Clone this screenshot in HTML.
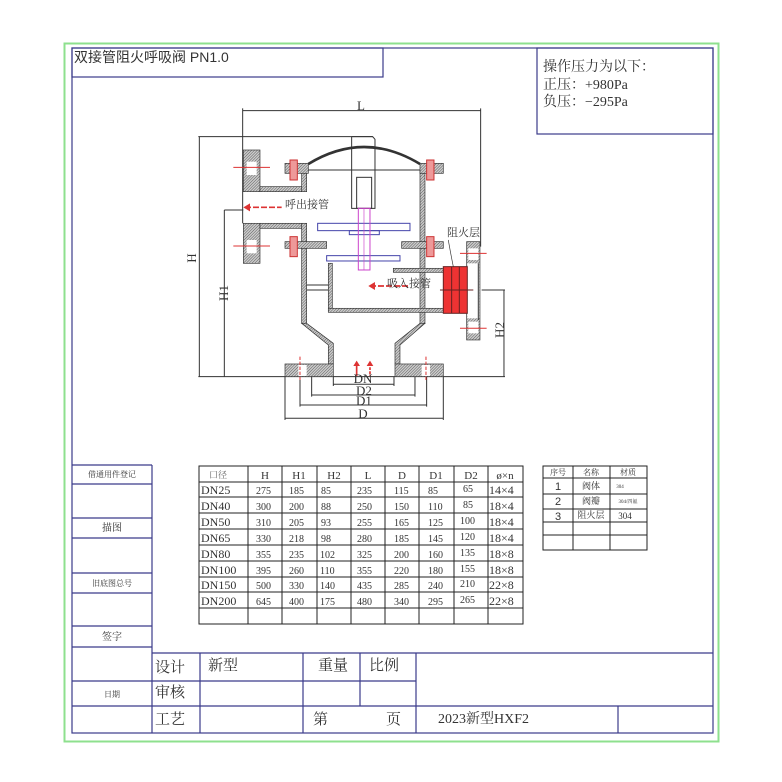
<!DOCTYPE html>
<html><head><meta charset="utf-8"><style>
html,body{margin:0;padding:0;background:#fff;}
svg{display:block;}
text{font-family:"Liberation Serif","Noto Serif CJK SC","Noto Sans CJK SC",serif;fill:#333;}
.s{font-family:"Liberation Sans","Noto Sans CJK SC",sans-serif;}
</style></head><body>
<svg width="782" height="782" viewBox="0 0 782 782" xmlns="http://www.w3.org/2000/svg">
<defs>
<pattern id="h" width="6" height="6" patternUnits="userSpaceOnUse" patternTransform="rotate(45)">
<rect width="6" height="6" fill="#ccc"/><line x1="0" y1="0" x2="0" y2="6" stroke="#444" stroke-width="2.5"/>
</pattern>
</defs>
<rect x="0" y="0" width="782" height="782" fill="#fff"/>
<rect x="64.5" y="43.5" width="654" height="698" fill="none" stroke="#8ee08e" stroke-width="2"/>
<g stroke="#3b3b8a" stroke-width="1.2" fill="none">
<rect x="72" y="48" width="641" height="685"/>
<rect x="72" y="48" width="311" height="29"/>
<rect x="537" y="48" width="176" height="86"/>
<line x1="72" y1="465" x2="152" y2="465"/><line x1="152" y1="465" x2="152" y2="733"/>
<line x1="72" y1="484" x2="152" y2="484"/>
<line x1="72" y1="518" x2="152" y2="518"/><line x1="72" y1="538" x2="152" y2="538"/>
<line x1="72" y1="573" x2="152" y2="573"/><line x1="72" y1="593" x2="152" y2="593"/>
<line x1="72" y1="626" x2="152" y2="626"/><line x1="72" y1="647" x2="152" y2="647"/>
<line x1="72" y1="681" x2="152" y2="681"/><line x1="72" y1="706" x2="152" y2="706"/>
<line x1="152" y1="653" x2="713" y2="653"/>
<line x1="152" y1="681" x2="416" y2="681"/>
<line x1="152" y1="706" x2="416" y2="706"/>
<line x1="416" y1="706" x2="713" y2="706"/>
<line x1="200" y1="653" x2="200" y2="733"/>
<line x1="303" y1="653" x2="303" y2="733"/>
<line x1="360" y1="653" x2="360" y2="706"/>
<line x1="416" y1="653" x2="416" y2="733"/>
<line x1="618" y1="706" x2="618" y2="733"/>
</g>
<text x="74" y="62" font-size="14" class="s">双接管阻火呼吸阀 PN1.0</text>
<text x="543" y="71" font-size="14">操作压力为以下：</text>
<text x="543" y="89" font-size="14">正压：+980Pa</text>
<text x="543" y="106" font-size="14">负压：−295Pa</text>
<g font-size="8" text-anchor="middle">
<text x="112" y="477">借通用件登记</text>
<text x="112" y="531" font-size="10">描图</text>
<text x="112" y="586">旧底图总号</text>
<text x="112" y="640" font-size="10">签字</text>
<text x="112" y="697">日期</text>
</g>
<g font-size="15">
<text x="155" y="672">设计</text><text x="208" y="670">新型</text>
<text x="318" y="670">重量</text><text x="369" y="670">比例</text>
<text x="155" y="697">审核</text>
<text x="155" y="724">工艺</text>
<text x="313" y="724">第</text><text x="386" y="724">页</text>
<text x="438" y="723" font-size="14">2023新型HXF2</text>
</g>
<g stroke="#222" stroke-width="1" fill="none">
<rect x="199" y="466" width="324" height="158"/>
<g>
<line x1="248" y1="466" x2="248" y2="624"/><line x1="282" y1="466" x2="282" y2="624"/>
<line x1="317" y1="466" x2="317" y2="624"/><line x1="351" y1="466" x2="351" y2="624"/>
<line x1="385" y1="466" x2="385" y2="624"/><line x1="419" y1="466" x2="419" y2="624"/>
<line x1="454" y1="466" x2="454" y2="624"/><line x1="488" y1="466" x2="488" y2="624"/>
<line x1="199" y1="482" x2="523" y2="482"/><line x1="199" y1="497" x2="523" y2="497"/>
<line x1="199" y1="513" x2="523" y2="513"/><line x1="199" y1="529" x2="523" y2="529"/>
<line x1="199" y1="545" x2="523" y2="545"/><line x1="199" y1="561" x2="523" y2="561"/>
<line x1="199" y1="577" x2="523" y2="577"/><line x1="199" y1="592" x2="523" y2="592"/>
<line x1="199" y1="608" x2="523" y2="608"/>
</g>
<rect x="543" y="466" width="104" height="84"/>
<line x1="573" y1="466" x2="573" y2="550"/><line x1="610" y1="466" x2="610" y2="550"/>
<line x1="543" y1="478" x2="647" y2="478"/><line x1="543" y1="494" x2="647" y2="494"/>
<line x1="543" y1="509" x2="647" y2="509"/><line x1="543" y1="522" x2="647" y2="522"/>
<line x1="543" y1="535" x2="647" y2="535"/>
</g>
<g font-size="11" class="s" text-anchor="middle" fill="#222">
<text x="218" y="478" font-size="9" style="fill:#666">口径</text>
<text x="265" y="479">H</text><text x="299" y="479">H1</text><text x="334" y="479">H2</text>
<text x="368" y="479">L</text><text x="402" y="479">D</text><text x="436" y="479">D1</text>
<text x="471" y="479">D2</text><text x="505" y="479">ø×n</text>
</g>
<g font-size="12" class="s" fill="#222">
<text x="201" y="494">DN25</text><text x="201" y="510">DN40</text><text x="201" y="526">DN50</text>
<text x="201" y="542">DN65</text><text x="201" y="558">DN80</text><text x="201" y="574">DN100</text>
<text x="201" y="589">DN150</text><text x="201" y="605">DN200</text>
<text x="489" y="494">14×4</text><text x="489" y="510">18×4</text><text x="489" y="526">18×4</text>
<text x="489" y="542">18×4</text><text x="489" y="558">18×8</text><text x="489" y="574">18×8</text>
<text x="489" y="589">22×8</text><text x="489" y="605">22×8</text>
</g>
<g font-size="10" fill="#666">
<text x="256" y="494">275</text><text x="289" y="494">185</text><text x="321" y="494">85</text><text x="357" y="494">235</text><text x="394" y="494">115</text><text x="428" y="494">85</text><text x="463" y="492">65</text>
<text x="256" y="510">300</text><text x="289" y="510">200</text><text x="321" y="510">88</text><text x="357" y="510">250</text><text x="394" y="510">150</text><text x="428" y="510">110</text><text x="463" y="508">85</text>
<text x="256" y="526">310</text><text x="289" y="526">205</text><text x="321" y="526">93</text><text x="357" y="526">255</text><text x="394" y="526">165</text><text x="428" y="526">125</text><text x="460" y="524">100</text>
<text x="256" y="542">330</text><text x="289" y="542">218</text><text x="321" y="542">98</text><text x="357" y="542">280</text><text x="394" y="542">185</text><text x="428" y="542">145</text><text x="460" y="540">120</text>
<text x="256" y="558">355</text><text x="289" y="558">235</text><text x="320" y="558">102</text><text x="357" y="558">325</text><text x="394" y="558">200</text><text x="428" y="558">160</text><text x="460" y="556">135</text>
<text x="256" y="574">395</text><text x="289" y="574">260</text><text x="320" y="574">110</text><text x="357" y="574">355</text><text x="394" y="574">220</text><text x="428" y="574">180</text><text x="460" y="572">155</text>
<text x="256" y="589">500</text><text x="289" y="589">330</text><text x="320" y="589">140</text><text x="357" y="589">435</text><text x="394" y="589">285</text><text x="428" y="589">240</text><text x="460" y="587">210</text>
<text x="256" y="605">645</text><text x="289" y="605">400</text><text x="320" y="605">175</text><text x="357" y="605">480</text><text x="394" y="605">340</text><text x="428" y="605">295</text><text x="460" y="603">265</text>
</g>
<g font-size="8" fill="#444" text-anchor="middle">
<text x="558" y="475">序号</text><text x="591" y="475">名称</text><text x="628" y="475">材质</text>
<text x="558" y="490" font-size="11" class="s">1</text><text x="591" y="489" font-size="9">阀体</text><text x="620" y="488" font-size="5">304</text>
<text x="558" y="505" font-size="11" class="s">2</text><text x="591" y="504" font-size="9">阀瓣</text><text x="628" y="503" font-size="5">304/四氟</text>
<text x="558" y="520" font-size="11" class="s">3</text><text x="591" y="518" font-size="9">阻火层</text><text x="625" y="519" font-size="9">304</text>
</g>
<g transform="translate(190,90) scale(0.3333)" stroke="#333" stroke-width="3" fill="none">
<line x1="158" y1="62" x2="872" y2="62"/>
<line x1="158" y1="55" x2="158" y2="400"/><line x1="872" y1="55" x2="872" y2="470"/>
<line x1="25" y1="140" x2="548" y2="140"/><line x1="28" y1="140" x2="28" y2="860"/>
<line x1="103" y1="360" x2="160" y2="360"/><line x1="103" y1="360" x2="103" y2="860"/>
<line x1="25" y1="860" x2="945" y2="860"/>
<line x1="875" y1="600" x2="945" y2="600"/><line x1="942" y1="600" x2="942" y2="860"/>
<line x1="430" y1="883" x2="612" y2="883"/><line x1="365" y1="915" x2="675" y2="915"/>
<line x1="330" y1="945" x2="710" y2="945"/><line x1="285" y1="985" x2="760" y2="985"/>
<line x1="285" y1="860" x2="285" y2="990"/><line x1="760" y1="860" x2="760" y2="990"/>
<line x1="330" y1="860" x2="330" y2="950"/><line x1="710" y1="860" x2="710" y2="950"/>
<line x1="365" y1="860" x2="365" y2="920"/><line x1="675" y1="860" x2="675" y2="920"/>
<line x1="430" y1="860" x2="430" y2="888"/><line x1="612" y1="860" x2="612" y2="888"/>
<polyline points="485,140 548,140 555,148 555,355 485,355 485,140"/>
<rect x="500" y="262" width="45" height="93"/>
<path d="M355,222 Q522,120 690,222" stroke-width="8"/>
<line x1="355" y1="240" x2="690" y2="240"/>
<g fill="url(#h)" stroke="#333" stroke-width="2">
<rect x="160" y="180" width="50" height="125"/>
<rect x="160" y="400" width="50" height="120"/>
<rect x="210" y="290" width="140" height="15"/>
<rect x="210" y="400" width="140" height="15"/>
<rect x="335" y="240" width="15" height="65"/>
<rect x="335" y="400" width="15" height="300"/>
<rect x="690" y="240" width="15" height="460"/>
<rect x="285" y="220" width="70" height="30"/>
<rect x="690" y="220" width="70" height="30"/>
<rect x="285" y="455" width="125" height="20"/>
<rect x="635" y="455" width="125" height="20"/>
<polygon points="335,700 350,700 430,760 430,822 415,822 415,765"/>
<polygon points="690,700 705,700 630,765 630,822 615,822 615,760"/>
<rect x="285" y="822" width="145" height="38"/>
<rect x="615" y="822" width="145" height="38"/>
<rect x="415" y="520" width="12" height="145"/>
<rect x="415" y="655" width="345" height="12"/>
<rect x="610" y="535" width="150" height="12"/>
<rect x="830" y="455" width="40" height="295"/>
</g>
<g fill="#fff" stroke="none">
<rect x="170" y="215" width="30" height="40"/><rect x="170" y="450" width="30" height="40"/>
<rect x="325" y="825" width="25" height="33"/><rect x="695" y="825" width="25" height="33"/>
<rect x="835" y="475" width="30" height="35"/><rect x="835" y="695" width="30" height="35"/>
<rect x="832" y="520" width="36" height="165"/>
</g>
<line x1="865" y1="520" x2="865" y2="690"/>
<g stroke="#d33" stroke-width="3">
<line x1="130" y1="232" x2="240" y2="232"/><line x1="130" y1="468" x2="240" y2="468"/>
<line x1="330" y1="800" x2="330" y2="870" stroke-dasharray="10,5"/><line x1="708" y1="800" x2="708" y2="870" stroke-dasharray="10,5"/>
<line x1="810" y1="490" x2="890" y2="490"/><line x1="810" y1="715" x2="890" y2="715"/>
</g>
<g fill="#e99" stroke="#c33" stroke-width="3">
<rect x="300" y="210" width="22" height="60"/><rect x="710" y="210" width="22" height="60"/>
<rect x="300" y="440" width="22" height="60"/><rect x="710" y="440" width="22" height="60"/>
</g>
<g stroke="#4444aa" stroke-width="3">
<rect x="383" y="400" width="277" height="22"/>
<rect x="410" y="497" width="220" height="16"/>
<rect x="478" y="422" width="90" height="12"/>
</g>
<rect x="505" y="355" width="35" height="185" stroke="#c4c" stroke-width="3"/>
<line x1="522" y1="355" x2="522" y2="540" stroke="#c4c" stroke-width="2"/>
<line x1="350" y1="585" x2="415" y2="585"/>
<line x1="350" y1="600" x2="415" y2="600"/>
<rect x="760" y="530" width="72" height="140" fill="#e33" stroke="#622" stroke-width="3"/>
<line x1="785" y1="530" x2="785" y2="670" stroke="#622"/><line x1="808" y1="530" x2="808" y2="670" stroke="#622"/>
<line x1="750" y1="600" x2="850" y2="600" stroke="#622"/>
<path d="M790,530 Q780,480 775,450" stroke-width="2"/>
<g stroke="#d33" stroke-width="5">
<line x1="165" y1="352" x2="275" y2="352" stroke-dasharray="18,6"/>
<line x1="540" y1="588" x2="660" y2="588" stroke-dasharray="18,6"/>
<line x1="500" y1="820" x2="500" y2="858"/><line x1="540" y1="820" x2="540" y2="858" stroke-dasharray="8,4"/>
</g>
<g fill="#d33" stroke="none">
<polygon points="160,352 180,340 180,364"/>
<polygon points="535,588 555,576 555,600"/>
<polygon points="500,812 490,828 510,828"/>
<polygon points="540,812 530,828 550,828"/>
</g>
</g>
<g font-size="13" fill="#222" text-anchor="middle" font-family="Liberation Serif, serif">
<text x="361" y="110">L</text>
<text x="363" y="383">DN</text>
<text x="364" y="395">D2</text>
<text x="364" y="405">D1</text>
<text x="363" y="418">D</text>
<text transform="translate(196,258) rotate(-90)">H</text>
<text transform="translate(228,293) rotate(-90)">H1</text>
<text transform="translate(504,330) rotate(-90)">H2</text>
</g>
<text x="285" y="208" font-size="11">呼出接管</text>
<text x="387" y="287" font-size="11">吸入接管</text>
<text x="447" y="236" font-size="11">阻火层</text>
</svg>
</body></html>
